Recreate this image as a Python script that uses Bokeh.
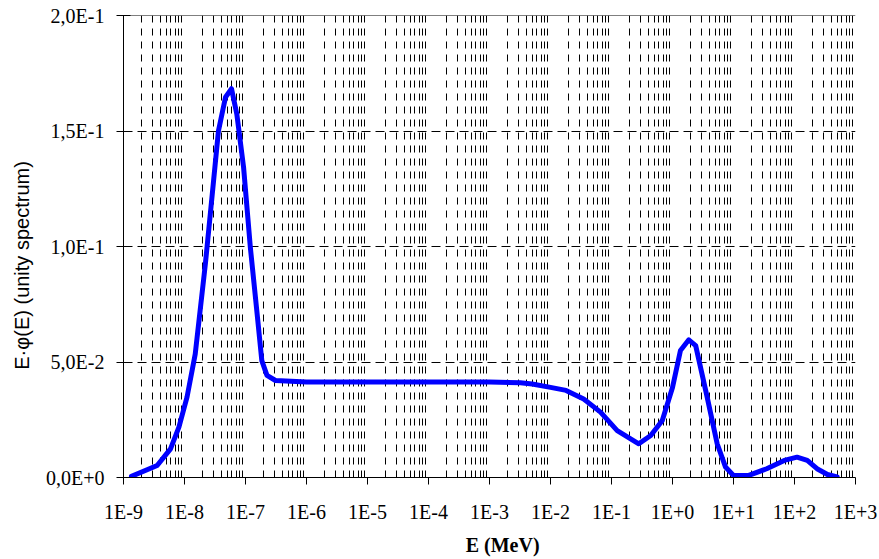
from bokeh.plotting import figure
from bokeh.models import FixedTicker, Span, ColumnDataSource, LinearAxis, Range1d, LinearScale
from bokeh.embed import file_html
from bokeh.resources import INLINE

# Energy (MeV) and E*phi(E)
energy = [1.35e-9, 3.56e-9, 5.9e-9, 8.1e-9, 1.1e-8, 1.5e-8, 2.2e-8, 3.0e-8,
          3.6e-8, 4.7e-8, 5.9e-8, 7.2e-8, 9.3e-8, 1.2e-7, 1.55e-7, 1.85e-7, 2.25e-7, 3.1e-7,
          1e-6, 1e-5, 1e-4, 1e-3, 3.2e-3, 5e-3, 1e-2, 1.8e-2, 3.5e-2, 6.6e-2, 0.124,
          0.28, 0.44, 0.68, 1.0, 1.35, 1.85, 2.4, 3.7, 5.4, 7.4, 10.0, 17.8, 35.0,
          68.0, 110.0, 162.0, 234.0, 347.0, 500.0]
ephi = [0.0005, 0.0052, 0.0124, 0.0218, 0.0348, 0.0535, 0.0925, 0.1286,
        0.150, 0.1646, 0.1683, 0.1574, 0.1343, 0.0997, 0.0709, 0.0506, 0.0442, 0.0420,
        0.0413, 0.0413, 0.0413, 0.0413, 0.0410, 0.0405, 0.0390, 0.0377, 0.0340, 0.0283, 0.0203,
        0.0146, 0.0182, 0.0247, 0.0390, 0.0550, 0.0596, 0.0571, 0.0348, 0.0146, 0.0045, 0.0009, 0.0009, 0.0038,
        0.0074, 0.0088, 0.0074, 0.0038, 0.0013, 0.0002]

x_exponents = list(range(-9, 4))
x_tick_labels = ["1E-9", "1E-8", "1E-7", "1E-6", "1E-5", "1E-4", "1E-3",
                 "1E-2", "1E-1", "1E+0", "1E+1", "1E+2", "1E+3"]
y_ticks = [0.0, 0.05, 0.10, 0.15, 0.20]
y_tick_labels = ["0,0E+0", "5,0E-2", "1,0E-1", "1,5E-1", "2,0E-1"]
x_title = "E (MeV)"
y_title = "E·φ(E)  (unity spectrum)"

x_ticks = [10.0 ** e for e in x_exponents]
minor = [m * 10.0 ** e for e in x_exponents[:-1] for m in range(2, 10)]

p = figure(width=879, height=559, x_axis_type="log", output_backend="svg",
           toolbar_location=None, x_range=(1e-9, 1e3), y_range=(0, 0.2),
           min_border_left=123, min_border_right=24, min_border_top=15,
           min_border_bottom=82)
p.outline_line_color = None
p.background_fill_color = "white"
p.border_fill_color = "white"

p.xaxis.ticker = FixedTicker(ticks=x_ticks, minor_ticks=minor)
p.xaxis.major_label_overrides = {t: l for t, l in zip(x_ticks, x_tick_labels)}
p.yaxis.ticker = FixedTicker(ticks=y_ticks)
p.yaxis.major_label_overrides = {t: l for t, l in zip(y_ticks, y_tick_labels)}

for ax in (p.xaxis, p.yaxis):
    ax.axis_line_color = "black"
    ax.axis_line_width = 1
    ax.major_tick_line_color = "black"
    ax.minor_tick_line_color = None
    ax.major_label_text_font = "Liberation Serif"
    ax.major_label_text_font_size = "20px"
    ax.major_label_text_color = "black"

p.xaxis.major_tick_in = 0
p.xaxis.major_tick_out = 7
p.xaxis.major_label_standoff = 16
p.yaxis.major_tick_in = 7
p.yaxis.major_tick_out = 7
p.yaxis.major_label_standoff = 12

p.xgrid.grid_line_color = None
p.xgrid.minor_grid_line_color = "black"
p.xgrid.minor_grid_line_width = 1
p.xgrid.minor_grid_line_dash = "7 6"
p.ygrid.grid_line_color = "black"
p.ygrid.grid_line_width = 1
p.ygrid.grid_line_dash = "9 5"

p.add_layout(Span(location=0.2, dimension="width", line_color="black", line_width=1))

# axis titles drawn as single labels of helper axes (keeps the fonts)
p.extra_x_ranges = {"title_x": Range1d(0, 1)}
p.extra_x_scales = {"title_x": LinearScale()}
p.extra_y_ranges = {"title_y": Range1d(0, 1)}
p.extra_y_scales = {"title_y": LinearScale()}
tx = 0.518
ty = 0.465
ax_t = LinearAxis(x_range_name="title_x", ticker=FixedTicker(ticks=[tx]),
                  major_label_overrides={tx: x_title})
ay_t = LinearAxis(y_range_name="title_y", ticker=FixedTicker(ticks=[ty]),
                  major_label_overrides={ty: y_title}, major_label_orientation="vertical")
for a in (ax_t, ay_t):
    a.axis_line_color = None
    a.major_tick_line_color = None
    a.minor_tick_line_color = None
    a.major_tick_in = 0
    a.major_tick_out = 0
    a.major_label_text_color = "black"
    a.major_label_text_font_size = "20px"
ax_t.major_label_text_font = "Liberation Serif"
ax_t.major_label_text_font_style = "bold"
ax_t.major_label_standoff = 8
ay_t.major_label_text_font = "Liberation Sans"
ay_t.major_label_standoff = 10
p.add_layout(ax_t, "below")
p.add_layout(ay_t, "left")

src = ColumnDataSource(data=dict(x=energy, y=ephi))
p.line("x", "y", source=src, line_color="#0000ff", line_width=5, line_join="round", line_cap="round")

open("out.html", "w").write(file_html(p, INLINE))
